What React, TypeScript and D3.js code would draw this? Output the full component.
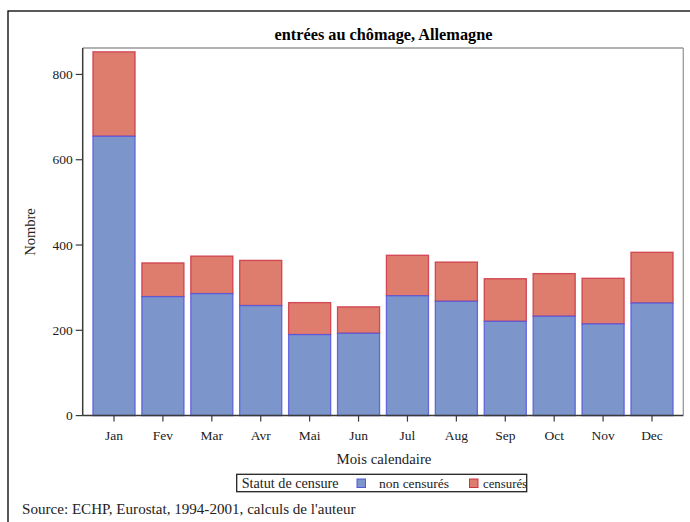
import React from "react";
import * as d3 from "d3";

const months = ["Jan", "Fev", "Mar", "Avr", "Mai", "Jun", "Jul", "Aug", "Sep", "Oct", "Nov", "Dec"];
const nonCensures = [655, 279, 286, 258, 190, 193, 281, 268, 221, 233, 215, 264];
const censures = [198, 79, 88, 106, 75, 62, 95, 92, 100, 100, 107, 119];
const yTicks = [0, 200, 400, 600, 800];
const seriesNames = ["non censurés", "censurés"];

const FONT = "'Liberation Serif', 'Times New Roman', serif";
const BLUE_FILL = "#7c95cb";
const BLUE_STROKE = "#5656e0";
const RED_FILL = "#de7c6e";
const RED_STROKE = "#cc3444";

export default function App() {
  const W = 690, H = 522;
  const left = 82.7, right = 683.3, top = 48, bottom = 415.6;

  const x = d3.scaleBand<string>().domain(months).range([left, right]).paddingInner(0.14).paddingOuter(0.21);
  const y = d3.scaleLinear().domain([0, 862]).range([bottom, top]);

  const stacked = months.map((m, i) => ({
    m,
    a: nonCensures[i],
    b: nonCensures[i] + censures[i],
  }));

  return (
    <svg width={W} height={H} style={{ position: "absolute", left: 0, top: 0, background: "#fff" }} fontFamily={FONT}>
      <rect x={0} y={0} width={W} height={H} fill="#fff" />
      {/* outer border */}
      <rect x={8} y={11} width={W + 10} height={H + 10} fill="none" stroke="#000" strokeWidth={1.3} />
      {/* title */}
      <text x={383.5} y={39.5} textAnchor="middle" fontSize={16.3} fontWeight="bold">entrées au chômage, Allemagne</text>

      {/* frame top/right */}
      <line x1={left} x2={right} y1={top} y2={top} stroke="#9a9a9a" strokeWidth={1.3} />
      <line x1={right} x2={right} y1={top} y2={bottom} stroke="#9a9a9a" strokeWidth={1.3} />

      {/* bars */}
      {stacked.map((d) => (
        <g key={d.m}>
          <rect x={x(d.m)!} y={y(d.b)} width={x.bandwidth()} height={y(d.a) - y(d.b)} fill={RED_FILL} stroke={RED_STROKE} strokeWidth={1.3} strokeOpacity={0.85} />
          <rect x={x(d.m)!} y={y(d.a)} width={x.bandwidth()} height={y(0) - y(d.a)} fill={BLUE_FILL} stroke={BLUE_STROKE} strokeWidth={1.3} strokeOpacity={0.85} />
        </g>
      ))}

      {/* axes */}
      <line x1={left} x2={left} y1={top} y2={bottom} stroke="#3a3a3a" strokeWidth={1.5} />
      <line x1={left} x2={right} y1={bottom} y2={bottom} stroke="#3a3a3a" strokeWidth={1.5} />
      {yTicks.map((t) => (
        <g key={t}>
          <line x1={left - 7} x2={left} y1={y(t)} y2={y(t)} stroke="#3a3a3a" strokeWidth={1.2} />
          <text x={left - 10} y={y(t) + 4.5} textAnchor="end" fontSize={13.5} fill="#222">{t}</text>
        </g>
      ))}
      {months.map((m) => {
        const cx = x(m)! + x.bandwidth() / 2;
        return (
          <g key={m}>
            <line x1={cx} x2={cx} y1={bottom} y2={bottom + 6} stroke="#3a3a3a" strokeWidth={1.2} />
            <text x={cx} y={bottom + 24} textAnchor="middle" fontSize={13.5} fill="#222">{m}</text>
          </g>
        );
      })}
      <text transform={`translate(35,232) rotate(-90)`} textAnchor="middle" fontSize={14.5} fill="#222">Nombre</text>
      <text x={384} y={464} textAnchor="middle" fontSize={14.8} fill="#222">Mois calendaire</text>

      {/* legend */}
      <rect x={236.7} y={474.3} width={290} height={17.4} fill="#fff" stroke="#222" strokeWidth={1.3} />
      <text x={241.7} y={488} fontSize={14.2} fill="#222">Statut de censure</text>
      <rect x={357} y={479} width={8.5} height={8.5} fill={BLUE_FILL} stroke={BLUE_STROKE} strokeWidth={1} />
      <text x={379} y={488} fontSize={13.5} fill="#222">{seriesNames[0]}</text>
      <rect x={469.5} y={479} width={8.5} height={8.5} fill={RED_FILL} stroke={RED_STROKE} strokeWidth={1} />
      <text x={483} y={488} fontSize={12.8} fill="#222">{seriesNames[1]}</text>

      <text x={22} y={514} fontSize={15.1} fill="#222">Source: ECHP, Eurostat, 1994-2001, calculs de l'auteur</text>
    </svg>
  );
}
